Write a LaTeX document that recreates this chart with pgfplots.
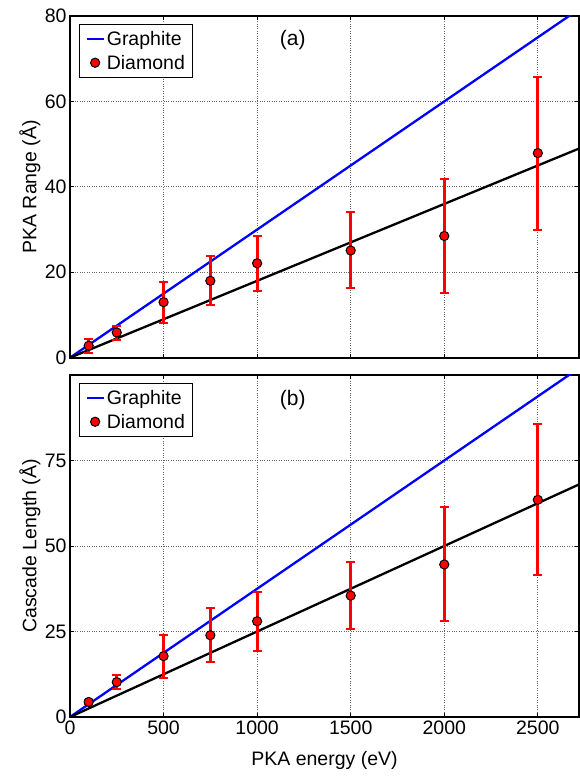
\documentclass[border=0pt]{standalone}
\usepackage{pgfplots}
\pgfplotsset{compat=1.18}
\usepackage{pgfplotstable}
\usepackage{fontspec}
\setmainfont{Liberation Sans}

\pgfplotstableread{
x y ep em
100 2.8 1.5 1.8
250 5.9 1.5 1.8
500 13.0 4.7 4.8
750 18.0 5.8 5.6
1000 22.1 6.5 6.4
1500 25.1 8.9 8.7
2000 28.5 13.4 13.3
2500 47.9 17.8 17.9
}\rangedata

\pgfplotstableread{
x y ep em
100 4.4 0.5 0.5
250 10.2 2.0 2.0
500 17.8 6.2 6.3
750 23.9 7.9 7.9
1000 28.0 8.6 8.7
1500 35.5 9.7 9.8
2000 44.6 16.8 16.5
2500 63.5 22.1 22.0
}\cascadedata

\pgfplotsset{
  panel/.style={
    scale only axis,
    width=509pt, height=341.7pt,
    xmin=0, xmax=2720,
    xtick={0,500,1000,1500,2000,2500},
    grid=major,
    major grid style={black!60, dotted, line width=0.8pt},
    axis line style={line width=1.8pt},
    tick style={black, line width=0.8pt},
    tick align=inside,
    major tick length=4pt,
    ticklabel style={font=\fontsize{19.5}{23}\selectfont},
    label style={font=\fontsize{19.5}{23}\selectfont},
    /pgf/number format/assume math mode=true,
    /pgf/number format/set thousands separator={},
    legend style={draw=black, line width=0.9pt, font=\fontsize{19.5}{23}\selectfont,
      at={(0.0177,0.977)}, anchor=north west, inner xsep=6pt, inner ysep=5pt,
      row sep=4pt, cells={anchor=west}},
    legend cell align=left,
    clip=true,
  },
  ebar/.style={only marks, mark=none, forget plot,
    error bars/.cd, y dir=both, y explicit,
    error bar style={draw=red, line width=2.8pt},
    error mark options={draw=red, line width=2pt, mark size=4.5pt, rotate=90}},
  dmark/.style={only marks, mark=*, mark size=4.6pt,
    mark options={fill=red, draw=black, line width=1pt}},
}

\begin{document}
\begin{tikzpicture}[x=1pt,y=1pt]
\begin{axis}[panel,
  at={(70pt,418.3pt)}, anchor=south west,
  ymin=0, ymax=80, ytick={0,20,40,60,80},
  xticklabels={},
  ylabel={PKA Range (Å)},
  ylabel style={at={(axis description cs:-0.0786,0.5)}, anchor=center},
]
\addplot[blue, line width=2.3pt] coordinates {(0,0) (2720,81.6)};
\addlegendentry{Graphite}
\addplot[black, line width=2.3pt, forget plot] coordinates {(0,0) (2720,48.96)};
\addplot[ebar] table[x=x, y=y, y error plus=ep, y error minus=em] {\rangedata};
\addplot[dmark] table[x=x, y=y] {\rangedata};
\addlegendentry{Diamond}
\node[font=\fontsize{21}{25}\selectfont] at (axis cs:1190,74.3) {(a)};
\end{axis}

\begin{axis}[panel,
  at={(70pt,59pt)}, anchor=south west,
  height=342pt,
  ymin=0, ymax=100, ytick={0,25,50,75},
  xlabel={PKA energy (eV)},
  ylabel={Cascade Length (Å)},
  ylabel style={at={(axis description cs:-0.0786,0.5)}, anchor=center},
  xlabel style={at={(axis description cs:0.5,-0.127)}, anchor=center},
]
\addplot[blue, line width=2.3pt] coordinates {(0,0) (2720,102)};
\addlegendentry{Graphite}
\addplot[black, line width=2.3pt, forget plot] coordinates {(0,0) (2720,68)};
\addplot[ebar] table[x=x, y=y, y error plus=ep, y error minus=em] {\cascadedata};
\addplot[dmark] table[x=x, y=y] {\cascadedata};
\addlegendentry{Diamond}
\node[font=\fontsize{21}{25}\selectfont] at (axis cs:1190,92.8) {(b)};
\end{axis}
\pgfresetboundingbox
\useasboundingbox (0,0) rectangle (580,776);
\end{tikzpicture}
\end{document}
